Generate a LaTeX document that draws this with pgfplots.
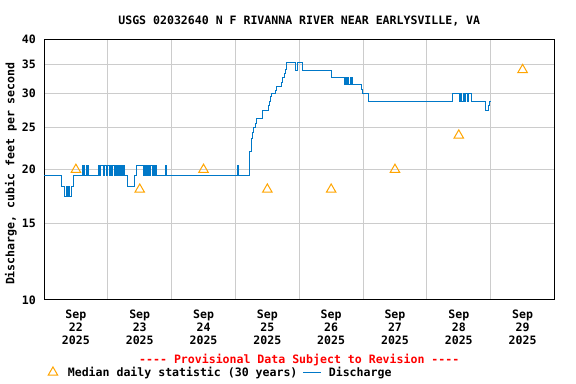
\documentclass[border=0pt]{standalone}
\usepackage{fontspec}
\setmainfont{DejaVu Sans Mono}
\usepackage{pgfplots}
\pgfplotsset{compat=1.18}
\definecolor{qblue}{RGB}{0,120,200}
\definecolor{qorange}{RGB}{255,165,0}
\definecolor{qgrid}{RGB}{204,204,204}
\newcommand{\fsz}{\fontsize{11.6}{12.7}\selectfont\bfseries}
\pgfplotsset{
  medleg/.style={legend image code/.code={\draw[##1] plot coordinates {(5.5bp,0bp)}; \path (12.7bp,0bp);}},
  disleg/.style={legend image code/.code={\draw[##1, draw=qblue, line width=1.2bp] (0bp,0bp) -- (17.3bp,0bp);}},
}
\begin{document}
\begin{tikzpicture}
\path[use as bounding box, fill=white] (0,0) rectangle (576bp,384bp);
\begin{axis}[
  at={(44bp,84bp)}, anchor=south west,
  scale only axis, width=510.5bp, height=260.7bp,
  xmin=0, xmax=192, ymode=log, ymin=10, ymax=40,
  xtick={12,36,60,84,108,132,156,180},
  xticklabels={{Sep\\22\\2025},{Sep\\23\\2025},{Sep\\24\\2025},{Sep\\25\\2025},{Sep\\26\\2025},{Sep\\27\\2025},{Sep\\28\\2025},{Sep\\29\\2025}},
  xticklabel style={align=center, inner sep=0pt, yshift=-10bp, font=\fsz},
  minor xtick={24,48,72,96,120,144,168},
  xminorgrids=true, xmajorgrids=false, ymajorgrids=true,
  ytick={10,15,20,25,30,35,40}, yticklabels={10,15,20,25,30,35,40},
  minor ytick={},
  yticklabel style={inner sep=0pt, xshift=-8bp, font=\fsz},
  major tick length=0pt, minor tick length=0pt,
  grid style={qgrid, line width=1bp},
  minor grid style={qgrid, line width=1bp},
  axis line style={line width=1bp},
  title={USGS 02032640 N F RIVANNA RIVER NEAR EARLYSVILLE, VA},
  title style={at={(0.5,1)}, anchor=base, yshift=9bp, inner sep=0pt, font=\fsz},
  ylabel={Discharge, cubic feet per second},
  ylabel style={at={(rel axis cs:0,0.5)}, anchor=center, yshift=33bp, xshift=-4bp, font=\fsz},
  legend columns=2,
  legend style={draw=none, fill=none, at={(rel axis cs:0,0)}, anchor=north west,
    xshift=4bp, yshift=-64.8bp, inner sep=0pt, font=\fsz,
    /tikz/every odd column/.append style={column sep=5.5bp},
    /tikz/every even column/.append style={column sep=3.4bp}},
  legend cell align=left,
]
\addplot[only marks, mark=triangle, mark size=5.5bp, qorange,
  mark options={line width=1bp, draw=qorange, fill=none}, medleg]
  coordinates {(12,20) (36,18) (60,20) (84,18) (108,18) (132,20) (156,24) (180,34)};
\addlegendentry{Median daily statistic (30 years)}
\addplot[const plot, qblue, line width=1bp, mark=none, disleg]
  coordinates {(0,19.4) (6.50,18.3) (7.78,17.3) (8.45,18.3) (8.83,17.3) (9.39,18.3) (9.77,17.3) (10.26,18.3) (11.01,19.4) (14.39,20.4) (14.77,19.4) (15.03,20.4) (15.29,19.4) (15.89,20.4) (16.27,19.4) (16.53,20.4) (16.91,19.4) (20.67,20.4) (21.04,19.4) (21.30,20.4) (22.54,19.4) (22.81,20.4) (23.67,19.4) (23.93,20.4) (24.80,19.4) (25.06,20.4) (25.55,19.4) (25.93,20.4) (26.68,19.4) (27.05,20.4) (27.43,19.4) (27.80,20.4) (28.18,19.4) (28.56,20.4) (28.93,19.4) (29.31,20.4) (29.68,19.4) (30.06,20.4) (30.32,19.4) (31.30,18.3) (34.08,19.4) (34.83,20.4) (37.31,19.4) (37.69,20.4) (38.32,19.4) (38.59,20.4) (39.08,19.4) (39.45,20.4) (39.83,19.4) (40.20,20.4) (40.77,19.4) (41.07,20.4) (41.71,19.4) (42.08,20.4) (42.46,19.4) (45.73,20.4) (46.10,19.4) (72.63,20.4) (73.08,19.4) (77.14,20.4) (77.40,22.0) (77.89,23.6) (78.41,24.4) (78.90,25.0) (79.39,25.6) (79.77,26.3) (82.02,27.4) (84.28,28.1) (84.65,28.8) (85.29,29.5) (85.67,30.0) (87.06,30.5) (87.54,31.2) (89.31,31.8) (89.80,32.6) (90.29,33.3) (90.81,34.0) (91.04,35.4) (94.42,34.4) (94.68,33.9) (95.32,35.4) (97.05,33.9) (108.02,32.6) (113.09,31.4) (113.47,32.6) (113.85,31.4) (114.22,32.6) (114.60,31.4) (115.16,32.6) (115.54,31.4) (115.91,32.6) (116.21,31.4) (119.37,30.6) (119.74,30.0) (122.11,28.8) (153.79,30.0) (156.30,28.8) (156.68,30.0) (157.17,28.8) (157.81,30.0) (158.18,28.8) (158.67,30.0) (159.12,28.8) (159.50,30.0) (160.70,28.8) (166.07,27.4) (167.20,28.1) (167.58,28.8) (167.84,28.8)};
\addlegendentry{Discharge}
\end{axis}
\node[text=red, anchor=base, inner sep=0pt, font=\fsz] at (299.25bp,20.8bp) {-{}-{}-{}- Provisional Data Subject to Revision -{}-{}-{}-};
\end{tikzpicture}
\end{document}
